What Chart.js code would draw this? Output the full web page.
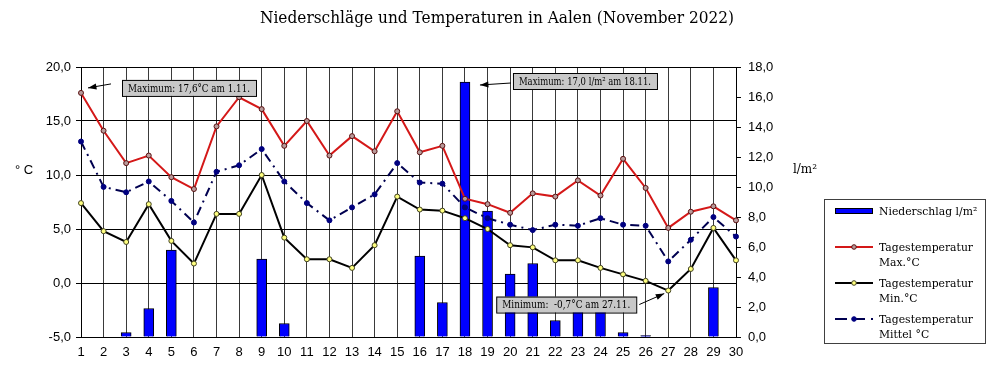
<!DOCTYPE html>
<html>
<head>
<meta charset="utf-8">
<script src="https://cdn.jsdelivr.net/npm/chart.js@4/dist/chart.umd.min.js"></script>
<style>
  html, body { margin: 0; padding: 0; background: #fff; }
  #wrap { width: 1000px; height: 382px; }
</style>
</head>
<body>
<div id="wrap"><canvas id="klimaChart" width="1000" height="382"></canvas></div>
<script>
const days = ['1','2','3','4','5','6','7','8','9','10','11','12','13','14','15','16','17','18','19','20','21','22','23','24','25','26','27','28','29','30'];
const niederschlag = [0, 0, 0.3, 1.9, 5.8, 0, 0, 0, 5.2, 0.9, 0, 0, 0, 0, 0, 5.4, 2.3, 17.0, 8.4, 4.2, 4.9, 1.1, 2.3, 2.0, 0.3, 0.1, 0, 0, 3.3, 0];
const tempMax = [17.6, 14.1, 11.1, 11.8, 9.8, 8.7, 14.5, 17.2, 16.1, 12.7, 15.0, 11.8, 13.6, 12.2, 15.9, 12.1, 12.7, 7.8, 7.3, 6.5, 8.3, 8.0, 9.5, 8.1, 11.5, 8.8, 5.1, 6.6, 7.1, 5.8];
const tempMin = [7.4, 4.8, 3.8, 7.3, 3.9, 1.8, 6.4, 6.4, 10.0, 4.2, 2.2, 2.2, 1.4, 3.5, 8.0, 6.8, 6.7, 6.0, 5.0, 3.5, 3.3, 2.1, 2.1, 1.4, 0.8, 0.2, -0.7, 1.3, 5.1, 2.1];
const tempMittel = [13.1, 8.9, 8.4, 9.4, 7.6, 5.6, 10.3, 10.9, 12.4, 9.4, 7.4, 5.8, 7.0, 8.2, 11.1, 9.3, 9.2, 7.0, 6.0, 5.4, 4.9, 5.4, 5.3, 6.0, 5.4, 5.3, 2.0, 4.0, 6.1, 4.3];

const titleText = 'Niederschläge und Temperaturen in Aalen (November 2022)';
const legendLabels = [['Niederschlag l/m²'], ['Tagestemperatur', 'Max.°C'], ['Tagestemperatur', 'Min.°C'], ['Tagestemperatur', 'Mittel °C']];

const fmt = v => v.toFixed(1).replace('.', ',');
const serif = '"DejaVu Serif", serif';
const sans = '"Liberation Sans", Arial, sans-serif';

// Maximum / Minimum markers (computed from the data)
const iMax = tempMax.indexOf(Math.max(...tempMax));
const iMin = tempMin.indexOf(Math.min(...tempMin));
const iRain = niederschlag.indexOf(Math.max(...niederschlag));

// the original uses a narrow slab serif, so squeeze DejaVu Serif horizontally
function narrowText(ctx, text, x, y, sx) {
    ctx.save();
    ctx.translate(x, y);
    ctx.scale(sx, 1);
    ctx.fillText(text, 0, 0);
    ctx.restore();
}

function drawNote(ctx, text, bx, by, w, h, tail, head) {
    ctx.save();
    ctx.fillStyle = '#c8c8c8';
    ctx.strokeStyle = '#000';
    ctx.lineWidth = 1;
    ctx.fillRect(bx, by, w, h);
    ctx.strokeRect(bx + 0.5, by + 0.5, w, h);
    ctx.fillStyle = '#000';
    ctx.font = '10.5px ' + serif;
    ctx.textAlign = 'center';
    ctx.textBaseline = 'middle';
    const tw = ctx.measureText(text).width;
    narrowText(ctx, text, bx + w / 2, by + h / 2 + 1, Math.min(1, (w - 12) / tw));
    // arrow
    ctx.beginPath();
    ctx.moveTo(tail[0], tail[1]);
    ctx.lineTo(head[0], head[1]);
    ctx.stroke();
    const a = Math.atan2(head[1] - tail[1], head[0] - tail[0]);
    ctx.beginPath();
    ctx.moveTo(head[0], head[1]);
    ctx.lineTo(head[0] - 9 * Math.cos(a - 0.35), head[1] - 9 * Math.sin(a - 0.35));
    ctx.lineTo(head[0] - 9 * Math.cos(a + 0.35), head[1] - 9 * Math.sin(a + 0.35));
    ctx.closePath();
    ctx.fill();
    ctx.restore();
}

const extras = {
    id: 'extras',
    afterDraw(chart) {
        const ctx = chart.ctx;
        const x = chart.scales.x, y = chart.scales.y, y1 = chart.scales.y1;

        // title
        ctx.save();
        ctx.fillStyle = '#000';
        ctx.font = '17px ' + serif;
        ctx.textAlign = 'center';
        ctx.textBaseline = 'middle';
        narrowText(ctx, titleText, 497, 19, 474 / ctx.measureText(titleText).width);

        // axis titles
        ctx.font = '13px ' + sans;
        ctx.fillText('° C', 24, 170);
        ctx.font = '12px ' + serif;
        ctx.fillText('l/m²', 805, 170);
        ctx.restore();

        // notes
        const px = x.getPixelForValue(iMax), py = y.getPixelForValue(tempMax[iMax]);
        drawNote(ctx, 'Maximum: ' + fmt(tempMax[iMax]) + '°C am ' + (iMax + 1) + '.11.', px + 41, py - 13, 134, 16, [px + 30, py - 9], [px + 7, py - 5]);
        const rx = x.getPixelForValue(iRain), ry = y1.getPixelForValue(niederschlag[iRain]);
        drawNote(ctx, 'Maximum: ' + fmt(niederschlag[iRain]) + ' l/m² am ' + (iRain + 1) + '.11.', rx + 48, ry - 9, 144, 16, [rx + 46, ry + 1], [rx + 15, ry + 3]);
        const mx = x.getPixelForValue(iMin), my = y.getPixelForValue(tempMin[iMin]);
        drawNote(ctx, 'Minimum:  ' + fmt(tempMin[iMin]) + '°C am ' + (iMin + 1) + '.11.', mx - 172, my + 6, 140, 16, [mx - 29, my + 14], [mx - 4, my + 3]);

        // legend
        ctx.save();
        ctx.fillStyle = '#fff';
        ctx.fillRect(824, 199, 162, 145);
        ctx.strokeStyle = '#404040';
        ctx.lineWidth = 1;
        ctx.strokeRect(824.5, 199.5, 161, 144);
        const ds = chart.data.datasets;
        const rows = [211, 247, 283, 319];
        ctx.font = '11.5px ' + serif;
        ctx.textBaseline = 'middle';
        ctx.textAlign = 'left';
        const sq = 94 / ctx.measureText('Tagestemperatur').width;
        rows.forEach((ry, i) => {
            const d = ds[i];
            if (d.type === 'bar') {
                ctx.fillStyle = d.backgroundColor;
                ctx.fillRect(835, ry - 3, 38, 6);
                ctx.strokeStyle = '#000';
                ctx.strokeRect(835.5, ry - 2.5, 37, 5);
            } else {
                ctx.strokeStyle = d.borderColor;
                ctx.lineWidth = 2;
                ctx.setLineDash(d.borderDash ? [12, 6] : []);
                ctx.beginPath();
                ctx.moveTo(835, ry);
                ctx.lineTo(873, ry);
                ctx.stroke();
                ctx.setLineDash([]);
                ctx.lineWidth = 1;
                ctx.fillStyle = d.pointBackgroundColor;
                ctx.strokeStyle = d.pointBorderColor;
                ctx.beginPath();
                ctx.arc(854, ry, 2.3, 0, Math.PI * 2);
                ctx.fill();
                ctx.stroke();
            }
            ctx.fillStyle = '#000';
            legendLabels[i].forEach((t, k) => narrowText(ctx, t, 879, ry + 1 + k * 15, sq));
        });
        ctx.restore();
    }
};

const ctx = document.getElementById('klimaChart').getContext('2d');

new Chart(ctx, {
    type: 'bar',
    data: {
        labels: days,
        datasets: [{
            type: 'bar',
            label: 'Niederschlag l/m²',
            data: niederschlag,
            yAxisID: 'y1',
            backgroundColor: '#0000ff',
            borderColor: '#000',
            borderWidth: 1,
            barThickness: 10,
            order: 2
        }, {
            type: 'line',
            label: 'Tagestemperatur Max.°C',
            data: tempMax,
            yAxisID: 'y',
            borderColor: '#d41818',
            borderWidth: 2,
            pointRadius: 2.5,
            pointBackgroundColor: '#b89a9a',
            pointBorderColor: '#5a1010',
            pointBorderWidth: 1,
            tension: 0,
            order: 1
        }, {
            type: 'line',
            label: 'Tagestemperatur Min.°C',
            data: tempMin,
            yAxisID: 'y',
            borderColor: '#000',
            borderWidth: 2,
            pointRadius: 2.5,
            pointBackgroundColor: '#ffff80',
            pointBorderColor: '#404020',
            pointBorderWidth: 1,
            tension: 0,
            order: 1
        }, {
            type: 'line',
            label: 'Tagestemperatur Mittel °C',
            data: tempMittel,
            yAxisID: 'y',
            borderColor: '#000050',
            borderWidth: 2,
            borderDash: [9, 5, 2, 5],
            pointRadius: 2.5,
            pointBackgroundColor: '#000080',
            pointBorderColor: '#000080',
            pointBorderWidth: 1,
            tension: 0,
            order: 1
        }]
    },
    options: {
        responsive: false,
        animation: false,
        layout: { padding: { top: 67, left: 0, right: 0, bottom: 0 } },
        plugins: {
            legend: { display: false },
            tooltip: { enabled: false }
        },
        scales: {
            x: {
                offset: false,
                grid: { offset: false, color: '#3a3a3a', lineWidth: 1, drawTicks: false },
                border: { color: '#000' },
                ticks: { color: '#000', font: { family: 'Liberation Sans', size: 13 }, padding: 8, autoSkip: false, maxRotation: 0 },
                afterFit(scale) { scale.height = 45; }
            },
            y: {
                position: 'left',
                min: -5,
                max: 20,
                grid: { color: '#000', lineWidth: 1, tickLength: 5 },
                border: { color: '#000' },
                ticks: {
                    stepSize: 5,
                    color: '#000',
                    padding: 5,
                    font: { family: 'Liberation Sans', size: 13 },
                    callback: v => fmt(v)
                },
                afterFit(scale) { scale.width = 81; }
            },
            y1: {
                position: 'right',
                min: 0,
                max: 18,
                grid: { drawOnChartArea: false, color: '#000', tickLength: 5 },
                border: { color: '#000' },
                ticks: {
                    stepSize: 2,
                    color: '#000',
                    padding: 7,
                    font: { family: 'Liberation Sans', size: 13 },
                    callback: v => fmt(v)
                },
                afterFit(scale) { scale.width = 264; }
            }
        }
    },
    plugins: [extras]
});
</script>
</body>
</html>
